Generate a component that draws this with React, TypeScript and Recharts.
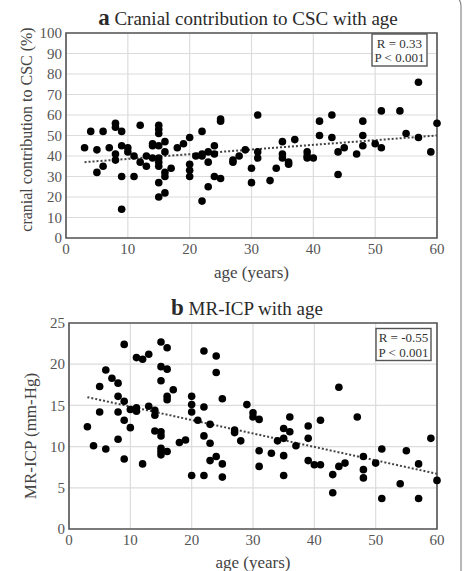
import React from "react";
import {
  ScatterChart,
  Scatter,
  XAxis,
  YAxis,
  CartesianGrid,
  ReferenceArea,
} from "recharts";

// a) cranial contribution to CSC (%) vs age
const cranialPoints: [number, number][] = [
  [3, 44], [4, 52], [5, 43], [5, 32], [6, 52], [6, 35], [7, 44],
  [8, 56], [8, 54], [8, 41], [8, 38],
  [9, 52], [9, 45], [9, 30], [9, 14],
  [10, 44], [10, 42], [11, 40], [11, 30], [12, 55], [12, 37], [13, 40], [13, 35],
  [14, 46], [14, 45], [14, 39],
  [15, 55], [15, 53], [15, 51], [15, 45], [15, 39], [15, 37], [15, 35], [15, 27], [15, 20],
  [16, 47], [16, 42], [16, 32], [16, 30], [16, 22],
  [17, 34], [18, 44], [19, 46],
  [20, 49], [20, 36], [20, 33], [20, 30],
  [21, 40], [22, 52], [22, 41], [22, 40], [22, 18],
  [23, 42], [23, 37], [23, 25], [24, 45], [24, 41], [24, 30],
  [25, 58], [25, 57], [25, 29], [27, 38], [27, 37], [28, 40], [29, 43],
  [30, 34], [30, 27], [31, 60], [31, 42], [31, 39], [33, 28], [34, 34],
  [35, 47], [35, 41], [35, 39], [36, 37], [36, 36], [37, 48],
  [39, 42], [39, 40], [39, 39], [40, 39], [41, 57], [41, 50], [43, 60], [43, 49],
  [44, 42], [44, 31], [45, 44], [47, 41], [48, 57], [48, 50], [48, 45], [50, 46],
  [51, 62], [51, 44], [54, 62], [55, 51], [57, 76], [57, 49], [59, 42], [60, 56],
];
const cranialTrend: [number, number][] = [[3, 37], [60, 50]];

// b) MR-ICP (mm-Hg) vs age
const icpPoints: [number, number][] = [
  [3, 12.4], [4, 10.1], [5, 17.3], [5, 14.2], [6, 19.3], [6, 9.7], [7, 18.3],
  [8, 17.7], [8, 16.1], [8, 14.2], [8, 10.9],
  [9, 22.4], [9, 15.5], [9, 13.2], [9, 8.5],
  [10, 14.5], [10, 12.3], [11, 20.8], [11, 14.7], [11, 14.3], [12, 20.6], [12, 7.9],
  [13, 21.2], [13, 14.9], [14, 14.4], [14, 13.8], [14, 11.9],
  [15, 22.7], [15, 19.7], [15, 18.0], [15, 11.8], [15, 11.3], [15, 9.8], [15, 9.4], [15, 9.0],
  [16, 22.0], [16, 19.4], [16, 16.1], [16, 15.7], [16, 9.4],
  [17, 16.9], [18, 10.5], [19, 10.8],
  [20, 16.1], [20, 15.1], [20, 14.2], [20, 6.5], [21, 13.2],
  [22, 21.6], [22, 14.8], [22, 11.3], [22, 6.5],
  [23, 12.7], [23, 10.4], [23, 8.3], [24, 21.0], [24, 19.0], [24, 8.8],
  [25, 15.8], [25, 7.9], [25, 6.3], [27, 12.0], [27, 11.7], [28, 10.7], [29, 15.1],
  [30, 14.1], [30, 13.6], [31, 13.3], [31, 9.5], [31, 7.6], [33, 9.2], [34, 10.7],
  [35, 12.2], [35, 11.0], [35, 8.9], [35, 6.5], [36, 13.6], [36, 11.8], [37, 10.1],
  [39, 12.5], [39, 11.0], [39, 8.3], [40, 7.8], [41, 13.2], [41, 7.8],
  [43, 6.6], [43, 4.4], [44, 17.2], [44, 7.6], [45, 8.0], [47, 13.6],
  [48, 8.8], [48, 7.2], [48, 6.2], [50, 8.0], [51, 9.7], [51, 3.7], [54, 5.5], [55, 9.5],
  [57, 7.9], [57, 3.7], [59, 11.0], [60, 5.9],
];
const icpTrend: [number, number][] = [[3, 16], [60, 6.7]];

const ageTicks = [0, 10, 20, 30, 40, 50, 60];
const cscTicks = [0, 10, 20, 30, 40, 50, 60, 70, 80, 90, 100];
const icpTicks = [0, 5, 10, 15, 20, 25];

const SERIF = "Liberation Serif, DejaVu Serif, serif";

const toXY = (pts: [number, number][]) => pts.map(([x, y]) => ({ x, y }));

const Dot = (props: any) => <circle cx={props.cx} cy={props.cy} r={3.8} fill="#000" />;
const NoDot = () => <g />;

const XTick = (props: any) => (
  <text
    x={props.x}
    y={props.y}
    dy="0.75em"
    textAnchor="middle"
    fontFamily={SERIF}
    fontSize={15}
    fill="#555"
  >
    {props.payload.value}
  </text>
);

const YTick = (props: any) => (
  <text
    x={props.x}
    y={props.y}
    dy="0.34em"
    textAnchor="end"
    fontFamily={SERIF}
    fontSize={15}
    fill="#555"
  >
    {props.payload.value}
  </text>
);

const XLabel = (props: any) => {
  const { viewBox, value, dy } = props;
  return (
    <text
      x={viewBox.x + viewBox.width / 2}
      y={viewBox.y + dy}
      textAnchor="middle"
      dominantBaseline="central"
      fontFamily={SERIF}
      fontSize={17}
      fill="#444"
    >
      {value}
    </text>
  );
};

const YLabel = (props: any) => {
  const { viewBox, value, cx, shift, size } = props;
  const cy = viewBox.y + viewBox.height / 2 + shift;
  return (
    <text
      x={cx}
      y={cy}
      transform={`rotate(-90 ${cx} ${cy})`}
      textAnchor="middle"
      dominantBaseline="central"
      fontFamily={SERIF}
      fontSize={size}
      fill="#444"
    >
      {value}
    </text>
  );
};

function AgePlot(props: {
  points: [number, number][];
  trend: [number, number][];
  yTicks: number[];
  yMax: number;
  height: number;
  yWidth: number;
  xHeight: number;
  yLabel: string;
  yLabelX: number;
  yLabelShift: number;
  yLabelSize: number;
  xLabelDy: number;
}) {
  return (
    <ScatterChart
      width={465}
      height={props.height}
      margin={{ top: 33, right: 28, bottom: 0, left: 0 }}
    >
      <CartesianGrid stroke="#dcdcdc" strokeWidth={1.2} />
      <XAxis
        type="number"
        dataKey="x"
        domain={[0, 60]}
        ticks={ageTicks}
        interval={0}
        height={props.xHeight}
        axisLine={false}
        tickLine={false}
        tickSize={0}
        tickMargin={5}
        tick={<XTick />}
        label={<XLabel value="age (years)" dy={props.xLabelDy} />}
      />
      <YAxis
        type="number"
        dataKey="y"
        domain={[0, props.yMax]}
        ticks={props.yTicks}
        interval={0}
        width={props.yWidth}
        axisLine={false}
        tickLine={false}
        tickSize={0}
        tickMargin={4}
        tick={<YTick />}
        label={
          <YLabel
            value={props.yLabel}
            cx={props.yLabelX}
            shift={props.yLabelShift}
            size={props.yLabelSize}
          />
        }
      />
      <ReferenceArea
        x1={0}
        x2={60}
        y1={0}
        y2={props.yMax}
        fill="none"
        fillOpacity={0}
        stroke="#555"
        strokeWidth={1.6}
        ifOverflow="visible"
      />
      <Scatter
        data={toXY(props.trend)}
        line={{ stroke: "#444", strokeWidth: 2, strokeDasharray: "2 2" }}
        shape={NoDot}
        isAnimationActive={false}
      />
      <Scatter data={toXY(props.points)} shape={Dot} isAnimationActive={false} />
    </ScatterChart>
  );
}

export default function App() {
  return (
    <div
      style={{
        position: "absolute",
        left: 0,
        top: 0,
        width: 465,
        height: 571,
        background: "#fff",
        overflow: "hidden",
      }}
    >
      <AgePlot
        points={cranialPoints}
        trend={cranialTrend}
        yTicks={cscTicks}
        yMax={100}
        height={290}
        yWidth={66}
        xHeight={52}
        yLabel="cranial contribution to CSC (%)"
        yLabelX={26}
        yLabelShift={-6}
        yLabelSize={16}
        xLabelDy={34}
      />
      <AgePlot
        points={icpPoints}
        trend={icpTrend}
        yTicks={icpTicks}
        yMax={25}
        height={281}
        yWidth={69}
        xHeight={42}
        yLabel="MR-ICP (mm-Hg)"
        yLabelX={30}
        yLabelShift={10}
        yLabelSize={17}
        xLabelDy={33}
      />
      <svg
        width={465}
        height={571}
        style={{ position: "absolute", left: 0, top: 0, pointerEvents: "none" }}
        fontFamily={SERIF}
      >
        <rect x={-12} y={-6} width={473} height={600} rx={12} fill="none" stroke="#888" strokeWidth={1.2} />
        <text x={248} y={25} textAnchor="middle" fontSize={19} fill="#2a2a2a">
          <tspan fontWeight="bold" fontSize={23}>a</tspan>
          <tspan> Cranial contribution to CSC with age</tspan>
        </text>
        <text x={247} y={315} textAnchor="middle" fontSize={19} fill="#2a2a2a">
          <tspan fontWeight="bold" fontSize={23}>b</tspan>
          <tspan> MR-ICP with age</tspan>
        </text>
        <rect x={372} y={34} width={55} height={32} fill="#fff" stroke="#555" strokeWidth={1.4} />
        <text x={399.5} y={47.5} textAnchor="middle" fontSize={13} fill="#333">R = 0.33</text>
        <text x={399.5} y={62} textAnchor="middle" fontSize={13} fill="#333">P &lt; 0.001</text>
        <rect x={376} y={328.5} width={55} height={32} fill="#fff" stroke="#555" strokeWidth={1.4} />
        <text x={403.5} y={342} textAnchor="middle" fontSize={13} fill="#333">R = -0.55</text>
        <text x={403.5} y={356.5} textAnchor="middle" fontSize={13} fill="#333">P &lt; 0.001</text>
      </svg>
    </div>
  );
}
